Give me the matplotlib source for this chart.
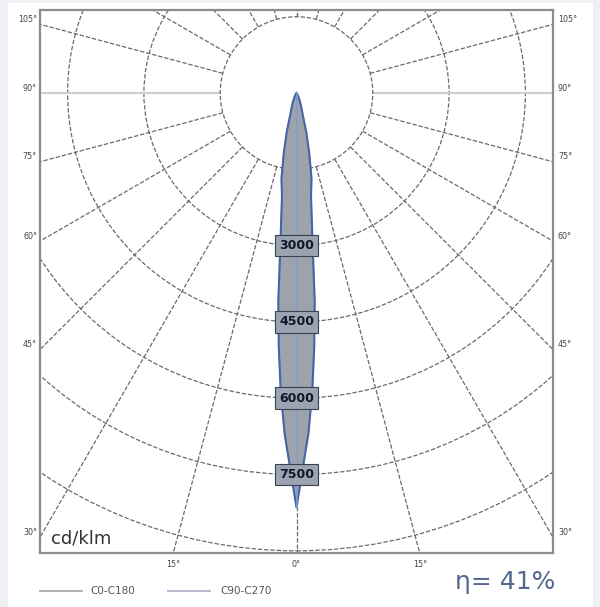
import numpy as np
import matplotlib
matplotlib.use("Agg")
import matplotlib.pyplot as plt
from matplotlib.patches import Circle, Rectangle, Polygon

# Datos de la curva fotométrica (cd/klm)
gamma_deg = [0, 1, 2, 3, 4, 5, 6, 7, 8, 10, 12, 14, 16, 20, 25, 30, 40, 90]
i_c0_c180 = [8150, 7350, 6700, 5900, 5000, 4100, 3050, 2450, 2050, 1700, 1200, 800, 450, 250, 120, 50, 10, 0]
i_c90_c270 = [8150, 7350, 6700, 5900, 5000, 4100, 3050, 2450, 2050, 1700, 1200, 800, 450, 250, 120, 50, 10, 0]

# Rejilla
ring_values = [1500 * k for k in range(1, 15)]
ring_labels = [3000, 4500, 6000, 7500]
grid_angles = list(range(-180, 181, 15))
side_angles = [30, 45, 60, 75, 90, 105]
bottom_angles = [-15, 0, 15]
eta_text = "η= 41%"

# Marco del diagrama (en cd/klm)
XMIN, XMAX = -5043, 5043
YMIN, YMAX = -9043, 1632

fig = plt.figure(figsize=(6.0, 6.07), dpi=100, facecolor="#eef0f5")
fig.patches.append(Rectangle((8 / 600, 0), 585 / 600, 1 - 3 / 607, transform=fig.transFigure,
                             facecolor="white", edgecolor="none", zorder=-5))
ax = fig.add_axes([40 / 600, 54 / 607, 513 / 600, 543 / 607])
ax.set_zorder(2)
ax.set_xlim(XMIN, XMAX)
ax.set_ylim(YMIN, YMAX)
ax.set_aspect("equal")
ax.set_xticks([])
ax.set_yticks([])
for s in ax.spines.values():
    s.set_color("#8c8c8c")
    s.set_linewidth(1.6)

dash = (0, (3.5, 1.5))
grid_col = "#6a6a6a"

# Círculos concéntricos
for r in ring_values[1:]:
    ax.add_patch(Circle((0, 0), r, fill=False, ec=grid_col, lw=0.9, ls=dash, zorder=1))

# Líneas radiales
for a in grid_angles:
    t = np.radians(a)
    xs = [1500 * np.sin(t), 20000 * np.sin(t)]
    ys = [-1500 * np.cos(t), -20000 * np.cos(t)]
    if abs(a) == 90:
        ax.plot(xs, ys, color="#cfcfcf", lw=1.6, zorder=1)
    else:
        ax.plot(xs, ys, color=grid_col, lw=0.9, ls=dash, zorder=1)

# Disco central
ax.add_patch(Circle((0, 0), ring_values[0], fc="white", ec=grid_col, lw=0.9, ls=dash, zorder=2))

# Curvas
def curve_xy(gam, inten):
    g = np.radians(np.array(gam, dtype=float))
    r = np.array(inten, dtype=float)
    g = np.concatenate([-g[::-1], g[1:]])
    r = np.concatenate([r[::-1], r[1:]])
    return r * np.sin(g), -r * np.cos(g)

x0, y0 = curve_xy(gamma_deg, i_c0_c180)
ax.plot(x0, y0, color="#a89c94", lw=1.0, zorder=3)
x9, y9 = curve_xy(gamma_deg, i_c90_c270)
ax.add_patch(Polygon(np.column_stack([x9, y9]), closed=True, fc="#9ea2ab", ec="#4566a6", lw=1.5, zorder=3))
ax.plot([0, 0], [0, -i_c90_c270[0]], color="#7f9fd0", lw=1.1, zorder=3)

# Etiquetas de intensidad
for v in ring_labels:
    ax.text(0, -v, str(v), ha="center", va="center", fontsize=9, fontweight="bold", color="#101828", zorder=5,
            bbox=dict(boxstyle="square,pad=0.35", fc="#9ca3b1", ec="#3a4250", lw=0.8))

ax.text(-4820, -8750, "cd/klm", fontsize=13, color="#333333", ha="left", va="center", zorder=5)

# Etiquetas de ángulos
lab_kw = dict(fontsize=5.8, color="#444444", annotation_clip=False)
for a in side_angles:
    t = np.radians(a)
    y = -XMAX * np.cos(t) / np.sin(t)
    ax.annotate(f"{a}°", (XMIN, y), xytext=(-3, 5), textcoords="offset pixels",
                ha="right", va="center", **lab_kw)
    ax.annotate(f"{a}°", (XMAX, y), xytext=(5, 5), textcoords="offset pixels",
                ha="left", va="center", **lab_kw)
for a in bottom_angles:
    t = np.radians(a)
    x = YMIN * np.tan(t)
    ax.annotate(f"{abs(a)}°", (x, YMIN), xytext=(0, -7), textcoords="offset pixels",
                ha="center", va="top", **lab_kw)

# Leyenda
fig.add_artist(plt.Line2D([40 / 600, 82 / 600], [1 - 591 / 607] * 2, color="#b3aaa4", lw=1.3))
fig.text(90 / 600, 1 - 591 / 607, "C0-C180", fontsize=7.5, color="#555555", va="center")
fig.add_artist(plt.Line2D([168 / 600, 210 / 600], [1 - 591 / 607] * 2, color="#b0b4c8", lw=1.3))
fig.text(220 / 600, 1 - 591 / 607, "C90-C270", fontsize=7.5, color="#555555", va="center")

fig.text(555 / 600, 1 - 582 / 607, eta_text, fontsize=18, color="#54688f", ha="right", va="center")

fig.savefig("out.png", dpi=100, facecolor=fig.get_facecolor())
